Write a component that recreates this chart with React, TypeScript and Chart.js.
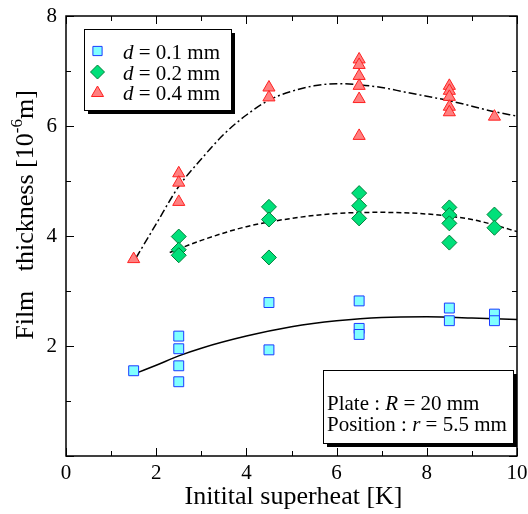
import React, { useEffect, useRef } from 'react';
import { Chart, registerables } from 'chart.js';

Chart.register(...registerables);

const SERIF = '"Liberation Serif", "Times New Roman", serif';

// Measured data
const sqX = [1.5, 2.5, 2.5, 2.5, 2.5, 4.5, 4.5, 6.5, 6.5, 6.5, 8.5, 8.5, 9.5, 9.5];
const sqY = [1.55, 2.18, 1.95, 1.64, 1.35, 2.79, 1.93, 2.82, 2.32, 2.21, 2.69, 2.46, 2.58, 2.46];

const dmX = [2.5, 2.5, 2.5, 4.5, 4.5, 4.5, 6.5, 6.5, 6.5, 8.5, 8.5, 8.5, 8.5, 9.5, 9.5];
const dmY = [3.99, 3.75, 3.65, 4.53, 4.30, 3.61, 4.78, 4.55, 4.32, 4.52, 4.38, 4.23, 3.88, 4.39, 4.15];

const trX = [1.5, 2.5, 2.5, 2.5, 4.5, 4.5, 6.5, 6.5, 6.5, 6.5, 6.5, 6.5, 8.5, 8.5, 8.5, 8.5, 8.5, 9.5];
const trY = [3.58, 5.14, 4.97, 4.62, 6.70, 6.52, 7.21, 7.11, 6.91, 6.73, 6.49, 5.82, 6.73, 6.64, 6.53, 6.35, 6.25, 6.17];

// Fitted curves
const fit1X = [1.6, 2, 2.5, 3, 4, 5, 6, 7, 8, 9, 10];
const fit1Y = [1.52, 1.65, 1.82, 1.96, 2.18, 2.35, 2.46, 2.52, 2.53, 2.51, 2.48];
const fit2X = [2.3, 3, 4, 5, 6, 7, 8, 9, 9.5, 10];
const fit2Y = [3.70, 3.92, 4.17, 4.32, 4.41, 4.43, 4.40, 4.30, 4.20, 4.08];
const fit3X = [1.55, 2, 2.5, 3, 3.5, 4, 4.5, 5, 5.5, 6, 6.5, 7, 7.5, 8, 8.5, 9, 9.5, 10];
const fit3Y = [3.6, 4.22, 4.9, 5.4, 5.85, 6.2, 6.47, 6.63, 6.73, 6.77, 6.75, 6.7, 6.62, 6.54, 6.46, 6.36, 6.26, 6.18];

const xTicks = [0, 2, 4, 6, 8, 10];
const yTicks = [0, 2, 4, 6, 8];

const legendLabels = ['0.1', '0.2', '0.4'];

const pts = (xs: number[], ys: number[]) => xs.map((x, i) => ({ x, y: ys[i] }));

function drawMarker(ctx: CanvasRenderingContext2D, style: string, x: number, y: number, r: number, fill: string, stroke: string) {
  ctx.beginPath();
  if (style === 'rect') {
    const s = r * Math.SQRT1_2;
    ctx.rect(x - s, y - s, 2 * s, 2 * s);
  } else if (style === 'rectRot') {
    ctx.moveTo(x, y - r);
    ctx.lineTo(x + r, y);
    ctx.lineTo(x, y + r);
    ctx.lineTo(x - r, y);
    ctx.closePath();
  } else {
    ctx.moveTo(x, y - r);
    ctx.lineTo(x + r * Math.sin((2 * Math.PI) / 3), y - r * Math.cos((2 * Math.PI) / 3));
    ctx.lineTo(x + r * Math.sin((4 * Math.PI) / 3), y - r * Math.cos((4 * Math.PI) / 3));
    ctx.closePath();
  }
  ctx.fillStyle = fill;
  ctx.fill();
  ctx.strokeStyle = stroke;
  ctx.lineWidth = 1;
  ctx.stroke();
}

const decorPlugin = {
  id: 'decor',
  afterDatasetsDraw(chart: any) {
    const { ctx, chartArea: a, scales } = chart;
    const xs = scales.x;
    const ys = scales.y;
    ctx.save();
    // frame
    ctx.strokeStyle = '#000';
    ctx.lineWidth = 1.5;
    ctx.strokeRect(a.left, a.top, a.right - a.left, a.bottom - a.top);
    // inward ticks
    ctx.lineWidth = 1;
    for (let v = 0; v <= 10; v += 1) {
      const px = Math.round(xs.getPixelForValue(v)) + 0.5;
      const L = v % 2 === 0 ? 8 : 5;
      ctx.beginPath();
      ctx.moveTo(px, a.bottom);
      ctx.lineTo(px, a.bottom - L);
      ctx.moveTo(px, a.top);
      ctx.lineTo(px, a.top + L);
      ctx.stroke();
    }
    for (let v = 0; v <= 8; v += 1) {
      const py = Math.round(ys.getPixelForValue(v)) + 0.5;
      const L = v % 2 === 0 ? 8 : 5;
      ctx.beginPath();
      ctx.moveTo(a.left, py);
      ctx.lineTo(a.left + L, py);
      ctx.moveTo(a.right, py);
      ctx.lineTo(a.right - L, py);
      ctx.stroke();
    }

    // legend box
    const lx = 84, ly = 29, lw = 147, lh = 81;
    ctx.fillStyle = '#000';
    ctx.fillRect(lx + 4, ly + 4, lw, lh);
    ctx.fillStyle = '#fff';
    ctx.fillRect(lx, ly, lw, lh);
    ctx.strokeStyle = '#000';
    ctx.lineWidth = 1;
    ctx.strokeRect(lx + 0.5, ly + 0.5, lw, lh);
    const ds = chart.data.datasets;
    const rowsY = [59, 79.5, 100];
    const markY = [51, 72, 93];
    for (let i = 0; i < 3; i++) {
      const d = ds[i];
      drawMarker(ctx, d.pointStyle, 97.5, markY[i], d.pointStyle === 'rect' ? 6.5 : 7, d.backgroundColor, d.borderColor);
      ctx.fillStyle = '#000';
      ctx.textBaseline = 'alphabetic';
      ctx.textAlign = 'left';
      ctx.font = `italic 21px ${SERIF}`;
      let x = 123;
      ctx.fillText('d', x, rowsY[i]);
      x += ctx.measureText('d').width;
      ctx.font = `21px ${SERIF}`;
      ctx.fillText(` = ${legendLabels[i]} mm`, x, rowsY[i]);
    }

    // annotation box
    const bx = 323, by = 370, bw = 190, bh = 73;
    ctx.fillStyle = '#000';
    ctx.fillRect(bx + 4, by + 4, bw, bh);
    ctx.fillStyle = '#fff';
    ctx.fillRect(bx, by, bw, bh);
    ctx.strokeStyle = '#000';
    ctx.lineWidth = 1;
    ctx.strokeRect(bx + 0.5, by + 0.5, bw, bh);
    const line = (parts: [string, boolean][], x0: number, yb: number) => {
      let x = x0;
      for (const [t, it] of parts) {
        ctx.font = `${it ? 'italic ' : ''}21px ${SERIF}`;
        ctx.fillStyle = '#000';
        ctx.fillText(t, x, yb);
        x += ctx.measureText(t).width;
      }
    };
    line([['Plate : ', false], ['R', true], [' = 20 mm', false]], 327, 410);
    line([['Position : ', false], ['r', true], [' = 5.5 mm', false]], 327, 431);

    // x title
    ctx.font = `26px ${SERIF}`;
    ctx.textAlign = 'center';
    ctx.fillStyle = '#000';
    ctx.fillText('Initital superheat [K]', (a.left + a.right) / 2 + 2, 504);

    // y title (rotated, with superscript)
    ctx.save();
    ctx.translate(33, 215);
    ctx.rotate(-Math.PI / 2);
    ctx.textAlign = 'left';
    const main = 'Film   thickness [10';
    const sup = '-6';
    const tail = 'm]';
    ctx.font = `26px ${SERIF}`;
    const w1 = ctx.measureText(main).width;
    const w3 = ctx.measureText(tail).width;
    ctx.font = `17px ${SERIF}`;
    const w2 = ctx.measureText(sup).width;
    const total = w1 + w2 + w3;
    let x = -total / 2;
    ctx.font = `26px ${SERIF}`;
    ctx.fillText(main, x, 0);
    x += w1;
    ctx.font = `17px ${SERIF}`;
    ctx.fillText(sup, x, -11);
    x += w2;
    ctx.font = `26px ${SERIF}`;
    ctx.fillText(tail, x, 0);
    ctx.restore();

    ctx.restore();
  },
};

export default function App() {
  const ref = useRef<HTMLCanvasElement>(null);
  useEffect(() => {
    if (!ref.current) return;
    const chart = new Chart(ref.current, {
      type: 'scatter',
      data: {
        datasets: [
          {
            label: 'd = 0.1 mm',
            data: pts(sqX, sqY),
            pointStyle: 'rect',
            pointRadius: 7,
            backgroundColor: '#80ffff',
            borderColor: '#1a3cff',
            borderWidth: 1,
          },
          {
            label: 'd = 0.2 mm',
            data: pts(dmX, dmY),
            pointStyle: 'rectRot',
            pointRadius: 7.5,
            backgroundColor: '#00e07a',
            borderColor: '#00803a',
            borderWidth: 1,
          },
          {
            label: 'd = 0.4 mm',
            data: pts(trX, trY),
            pointStyle: 'triangle',
            pointRadius: 7,
            backgroundColor: '#ff8080',
            borderColor: '#ff2020',
            borderWidth: 1,
          },
          {
            label: 'fit 0.1',
            data: pts(fit1X, fit1Y),
            showLine: true,
            pointRadius: 0,
            borderColor: '#000',
            borderWidth: 1.5,
            cubicInterpolationMode: 'monotone',
            fill: false,
          },
          {
            label: 'fit 0.2',
            data: pts(fit2X, fit2Y),
            showLine: true,
            pointRadius: 0,
            borderColor: '#000',
            borderWidth: 1.5,
            borderDash: [5, 3],
            cubicInterpolationMode: 'monotone',
            fill: false,
          },
          {
            label: 'fit 0.4',
            data: pts(fit3X, fit3Y),
            showLine: true,
            pointRadius: 0,
            borderColor: '#000',
            borderWidth: 1.5,
            borderDash: [8, 3, 2, 3],
            cubicInterpolationMode: 'monotone',
            fill: false,
          },
        ],
      },
      options: {
        responsive: false,
        animation: false,
        events: [],
        layout: { padding: { top: 16, right: 11, left: 0, bottom: 0 } },
        plugins: { legend: { display: false }, tooltip: { enabled: false } },
        scales: {
          x: {
            type: 'linear',
            min: 0,
            max: 10,
            afterBuildTicks: (s: any) => { s.ticks = xTicks.map((v) => ({ value: v })); },
            afterFit: (s: any) => { s.height = 58; },
            grid: { display: false },
            border: { display: false },
            ticks: { color: '#000', font: { family: SERIF, size: 21 }, padding: -3, maxRotation: 0 },
          },
          y: {
            type: 'linear',
            min: 0,
            max: 8,
            afterBuildTicks: (s: any) => { s.ticks = yTicks.map((v) => ({ value: v })); },
            afterFit: (s: any) => { s.width = 66; },
            grid: { display: false },
            border: { display: false },
            ticks: {
              color: '#000',
              font: { family: SERIF, size: 21 },
              padding: 1,
              callback: (v: any) => (v === 0 ? '' : String(v)),
            },
          },
        },
      },
      plugins: [decorPlugin],
    } as any);
    return () => chart.destroy();
  }, []);
  return (
    <div style={{ position: 'fixed', left: 0, top: 0, width: 528, height: 514, background: '#fff' }}>
      <canvas ref={ref} width={528} height={514} />
    </div>
  );
}
